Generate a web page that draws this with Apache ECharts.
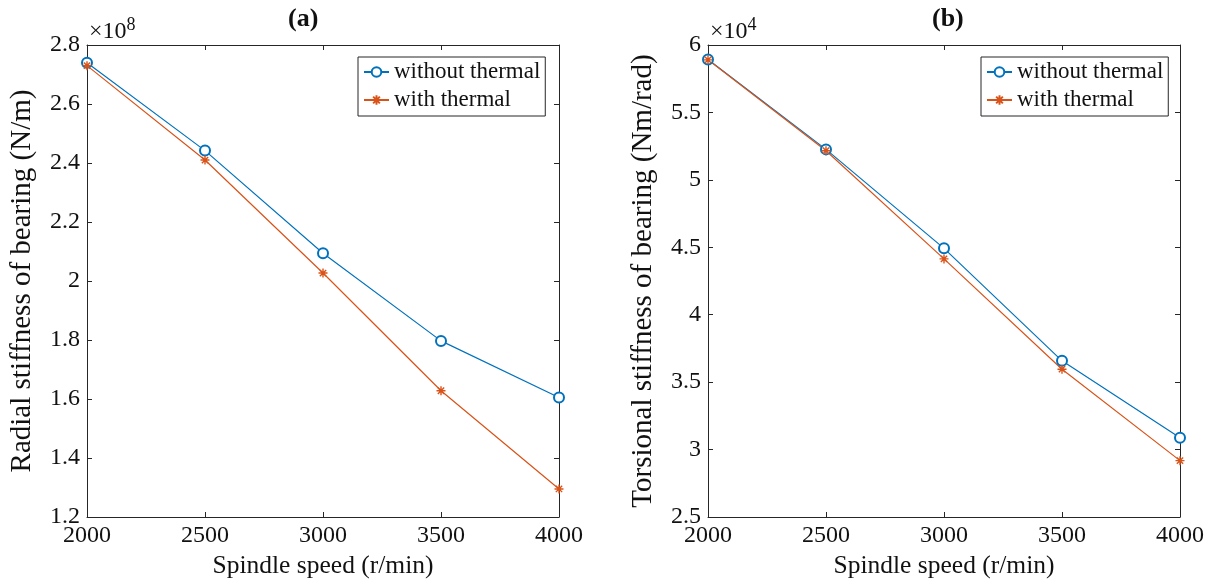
<!DOCTYPE html>
<html>
<head>
<meta charset="utf-8">
<script src="https://cdn.jsdelivr.net/npm/echarts@6/dist/echarts.min.js"></script>
<style>
	html, body { margin: 0; padding: 0; background: #fff; }
	#main { width: 1216px; height: 586px; }
</style>
</head>
<body>
<div id="main"></div>
<script>
	var speeds = [2000, 2500, 3000, 3500, 4000];
	// radial stiffness, x1e8 N/m
	var radialWithout = [2.740, 2.442, 2.094, 1.797, 1.605];
	var radialWith = [2.730, 2.410, 2.027, 1.628, 1.295];
	// torsional stiffness, x1e4 Nm/rad
	var torsionWithout = [5.893, 5.226, 4.492, 3.658, 3.087];
	var torsionWith = [5.890, 5.216, 4.414, 3.596, 2.918];
	var seriesNames = ['without thermal', 'with thermal'];
	var panelTitles = ['(a)', '(b)'];

	var font = '"Liberation Serif", "Times New Roman", serif';
	var blue = '#0072BD', orange = '#D95319';
	var starPath = 'path://M5,0L5,10M0,5L10,5M1.5,1.5L8.5,8.5M8.5,1.5L1.5,8.5';

	function pair(xs, ys) {
		var out = [];
		for(var i = 0; i < xs.length; i++) {
			out.push([xs[i], ys[i]]);
		}
		return out;
	}

	function fmt(v) {
		return String(parseFloat(v.toFixed(2)));
	}

	function xAxisFor(grid, top) {
		return {
			type: 'value',
			gridIndex: grid,
			position: top ? 'top' : 'bottom',
			min: 2000,
			max: 4000,
			interval: 500,
			name: top ? '' : 'Spindle speed (r/min)',
			nameLocation: 'middle',
			nameGap: 36,
			nameTextStyle: { fontFamily: font, fontSize: 25.5, color: '#111' },
			axisLine: { show: true, onZero: false, lineStyle: { color: '#262626', width: 1 } },
			axisTick: { show: true, inside: true, length: 5, lineStyle: { color: '#262626' } },
			axisLabel: { show: !top, margin: 7, fontFamily: font, fontSize: 24, color: '#111', formatter: fmt },
			splitLine: { show: false }
		};
	}

	function yAxisFor(grid, right, min, max, step, title) {
		return {
			type: 'value',
			gridIndex: grid,
			position: right ? 'right' : 'left',
			min: min,
			max: max,
			interval: step,
			name: right ? '' : title,
			nameLocation: 'middle',
			nameGap: 50,
			nameTextStyle: { fontFamily: font, fontSize: 29, color: '#111' },
			axisLine: { show: true, onZero: false, lineStyle: { color: '#262626', width: 1 } },
			axisTick: { show: true, inside: true, length: 5, lineStyle: { color: '#262626' } },
			axisLabel: { show: !right, margin: 7, fontFamily: font, fontSize: 24, color: '#111', formatter: fmt },
			splitLine: { show: false }
		};
	}

	function lineSeries(name, grid, data, isStar) {
		var c = isStar ? orange : blue;
		return {
			name: name,
			type: 'line',
			xAxisIndex: grid * 2,
			yAxisIndex: grid * 2,
			data: data,
			symbol: isStar ? starPath : 'emptyCircle',
			symbolSize: isStar ? 9 : 10,
			showAllSymbol: true,
			color: c,
			lineStyle: { width: 1.2, color: c },
			itemStyle: { color: c, borderColor: c, borderWidth: isStar ? 1.4 : 1.1 },
			animation: false
		};
	}

	function legendFor(left) {
		return {
			data: seriesNames,
			orient: 'vertical',
			left: left,
			top: 57,
			padding: [3, 5, 4, 5],
			itemGap: 4,
			itemWidth: 25,
			itemHeight: 12,
			backgroundColor: '#fff',
			borderColor: '#262626',
			borderWidth: 1,
			textStyle: { fontFamily: font, fontSize: 23, lineHeight: 24, color: '#111' }
		};
	}

	var chart = echarts.init(document.getElementById('main'), null, { renderer: 'canvas' });

	var option = {
		backgroundColor: '#fff',
		animation: false,
		grid: [
			{ left: 87, top: 45, width: 472, height: 472 },
			{ left: 708, top: 45, width: 472, height: 472 }
		],
		xAxis: [xAxisFor(0, false), xAxisFor(0, true), xAxisFor(1, false), xAxisFor(1, true)],
		yAxis: [
			yAxisFor(0, false, 1.2, 2.8, 0.2, 'Radial stiffness of bearing (N/m)'),
			yAxisFor(0, true, 1.2, 2.8, 0.2),
			yAxisFor(1, false, 2.5, 6, 0.5, 'Torsional stiffness of bearing (Nm/rad)'),
			yAxisFor(1, true, 2.5, 6, 0.5)
		],
		legend: [legendFor(358), legendFor(981)],
		series: [
			lineSeries(seriesNames[0], 0, pair(speeds, radialWithout), false),
			lineSeries(seriesNames[1], 0, pair(speeds, radialWith), true),
			lineSeries(seriesNames[0], 1, pair(speeds, torsionWithout), false),
			lineSeries(seriesNames[1], 1, pair(speeds, torsionWith), true)
		],
		graphic: [
			{ type: 'text', left: 288, top: 6, style: { text: panelTitles[0], font: 'bold 26px ' + font, fill: '#111' } },
			{ type: 'text', left: 932, top: 6, style: { text: panelTitles[1], font: 'bold 26px ' + font, fill: '#111' } },
			{ type: 'text', left: 89, top: 16, style: { text: '{b|\u00d710}{s|8}', rich: {
				b: { fontFamily: font, fontSize: 24, fill: '#111', verticalAlign: 'bottom', lineHeight: 28 },
				s: { fontFamily: font, fontSize: 18, fill: '#111', verticalAlign: 'top', lineHeight: 28, padding: [0, 0, 11, 0] }
			} } },
			{ type: 'text', left: 710, top: 16, style: { text: '{b|\u00d710}{s|4}', rich: {
				b: { fontFamily: font, fontSize: 24, fill: '#111', verticalAlign: 'bottom', lineHeight: 28 },
				s: { fontFamily: font, fontSize: 18, fill: '#111', verticalAlign: 'top', lineHeight: 28, padding: [0, 0, 11, 0] }
			} } }
		]
	};

	chart.setOption(option);
</script>
</body>
</html>
